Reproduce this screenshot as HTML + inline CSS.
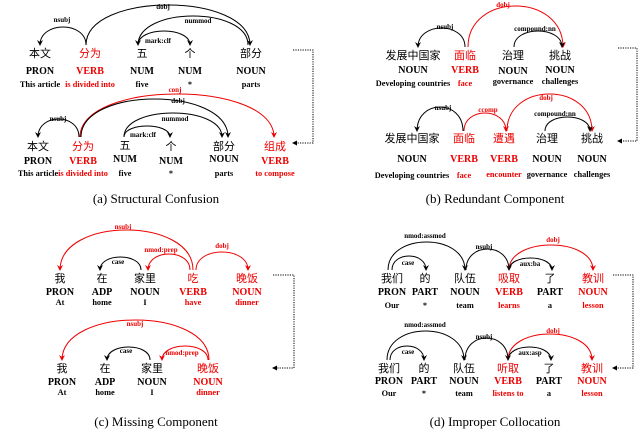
<!DOCTYPE html>
<html><head><meta charset="utf-8">
<style>
html,body{margin:0;padding:0;background:#fff;}
svg{display:block;}
.w{font-family:"Noto Sans CJK SC","WenQuanYi Zen Hei",sans-serif;font-size:11px;text-anchor:middle;}
.p{font-family:"Liberation Serif",serif;font-weight:bold;font-size:10px;text-anchor:middle;}
.g{font-family:"Liberation Serif",serif;font-weight:bold;font-size:8.3px;text-anchor:middle;}
.l{font-family:"Liberation Serif",serif;font-weight:bold;font-size:7px;text-anchor:middle;}
.c{font-family:"Liberation Serif",serif;font-size:13px;text-anchor:middle;}
</style></head><body>
<svg id="s" width="640" height="430" viewBox="0 0 640 430" xmlns="http://www.w3.org/2000/svg">
<defs>
<marker id="mk" markerWidth="6" markerHeight="6" refX="3" refY="5" markerUnits="userSpaceOnUse"><path d="M0,0 L3,6 L6,0 L3,2z" fill="#000"/></marker>
<marker id="mr" markerWidth="6" markerHeight="6" refX="3" refY="5" markerUnits="userSpaceOnUse"><path d="M0,0 L3,6 L6,0 L3,2z" fill="#e00"/></marker>
</defs>
</svg>
<script>
var s=document.getElementById('s'),NS='http://www.w3.org/2000/svg',R='#e00';
function el(t,a,txt){var e=document.createElementNS(NS,t);for(var k in a)e.setAttribute(k,a[k]);if(txt!==undefined)e.textContent=txt;s.appendChild(e);return e;}
function T(cls,x,y,t,red){el('text',{'class':cls,x:x,y:y,fill:red?R:'#000'},t);}
function word(x,yw,yp,yg,w,p,g,red){T('w',x,yw,w,red);T('p',x,yp,p,red);T('g',x,yg,g,red);}
function arc(x1,x2,y0,peak,lab,lx,ly,red){var cy=y0-(y0-peak)*4/3;
el('path',{d:'M'+x1+','+y0+' C'+x1+','+cy+' '+x2+','+cy+' '+x2+','+y0,fill:'none',stroke:red?R:'#000','stroke-width':1,'marker-end':red?'url(#mr)':'url(#mk)'});
T('l',lx,ly,lab,red);}
function conn(x1,xr,y1,y2,x2){el('path',{d:'M'+x1+','+y1+' H'+xr+' V'+y2+' H'+(x2+4),fill:'none',stroke:'#000','stroke-width':1,'stroke-dasharray':'1.2,1.2'});
el('path',{d:'M'+x2+','+y2+' l5,-2.5 v5z',fill:'#000'});}
// (a)
word(40,57,74,87,'本文','PRON','This article');word(90,57,74,87,'分为','VERB','is divided into',1);
word(142,57,74,87,'五','NUM','five');word(190,57,74,87,'个','NUM','*');word(251,57,74,87,'部分','NOUN','parts');
arc(86,40,45,27,'nsubj',62,22);arc(86,250,45,5,'dobj',163,9);arc(248,138,45,16,'nummod',198,23);arc(138,190,45,31,'mark:clf',158,43);
word(38,150,164,176,'本文','PRON','This article');word(83,150,164,176,'分为','VERB','is divided into',1);
word(125,149,162,176,'五','NUM','five');word(171,150,164,176,'个','NUM','*');word(224,150,162,176,'部分','NOUN','parts');word(275,150,164,176,'组成','VERB','to compose',1);
arc(80,274,137,94,'conj',175,92,1);arc(81,228,137,99,'dobj',178,103);arc(124,222,137,113,'nummod',175,121);arc(124,170,137,126,'mark:clf',143,137);arc(79,38,137,119,'nsubj',58,121);
T('c',156,203,'(a)  Structural Confusion');conn(293,313,50,143,292);
// (b)
word(413,59,73,86,'发展中国家','NOUN','Developing countries');word(465,59,73,86,'面临','VERB','face',1);
word(513,59,74,84,'治理','NOUN','governance');word(560,59,73,84,'挑战','NOUN','challenges');
arc(465,418,47,28,'nsubj',445,29);arc(468,563,47,6,'dobj',503,7,1);arc(514,562,47,31,'compound:nn',535,31);
word(412,142,162,178,'发展中国家','NOUN','Developing countries');word(464,142,162,178,'面临','VERB','face',1);word(504,142,162,177,'遭遇','VERB','encounter',1);
word(547,142,162,177,'治理','NOUN','governance');word(592,142,162,177,'挑战','NOUN','challenges');
arc(463,417,131,107,'nsubj',443,110);arc(464,506,131,113,'ccomp',488,112,1);arc(507,592,131,94,'dobj',546,100,1);arc(545,590,131,117,'compound:nn',555,116);
T('c',495,203,'(b)  Redundant Component');conn(618,637,48,141,617);
// (c)
word(60,282,295,305,'我','PRON','At');word(102,282,295,305,'在','ADP','home');word(145,282,295,305,'家里','NOUN','I');
word(193,282,295,305,'吃','VERB','have',1);word(247,282,295,305,'晚饭','NOUN','dinner',1);
arc(193,60,270,230,'nsubj',123,229,1);arc(190,148,270,254,'nmod:prep',161,252,1);arc(141,100,270,257,'case',118,264);arc(196,248,270,252,'dobj',222,248,1);
word(62,372,385,395,'我','PRON','At');word(105,372,385,395,'在','ADP','home');word(152,372,385,395,'家里','NOUN','I');word(208,372,385,395,'晚饭','NOUN','dinner',1);
arc(209,62,360,320,'nsubj',135,326,1);arc(150,107,360,347,'case',126,353);arc(208,162,360,346,'nmod:prep',182,355,1);
T('c',156,426,'(c)  Missing Component');conn(273,294,275,368,272);
// (d)
word(392,282,295,308,'我们','PRON','Our');word(425,282,295,308,'的','PART','*');word(465,282,295,308,'队伍','NOUN','team');
word(509,282,295,308,'吸取','VERB','learns',1);word(550,282,295,308,'了','PART','a');word(593,282,295,308,'教训','NOUN','lesson',1);
arc(388,465,270,242,'nmod:assmod',425,238);arc(392,426,270,256,'case',408,265);arc(466,509,270,249,'nsubj',484,249);arc(509,593,270,245,'dobj',553,242,1);arc(509,552,270,258,'aux:ba',530,266);
word(389,372,384,396,'我们','PRON','Our');word(424,372,384,396,'的','PART','*');word(464,372,384,396,'队伍','NOUN','team');
word(508,372,384,396,'听取','VERB','listens to',1);word(549,372,384,396,'了','PART','a');word(592,372,384,396,'教训','NOUN','lesson',1);
arc(387,464,360,331,'nmod:assmod',425,327);arc(390,424,360,346,'case',408,354);arc(465,508,360,338,'nsubj',484,339);arc(508,592,360,334,'dobj',553,333,1);arc(508,551,360,347,'aux:asp',530,355);
T('c',495,426,'(d)  Improper Collocation');conn(613,633,275,368,612);
</script>
</body></html>
